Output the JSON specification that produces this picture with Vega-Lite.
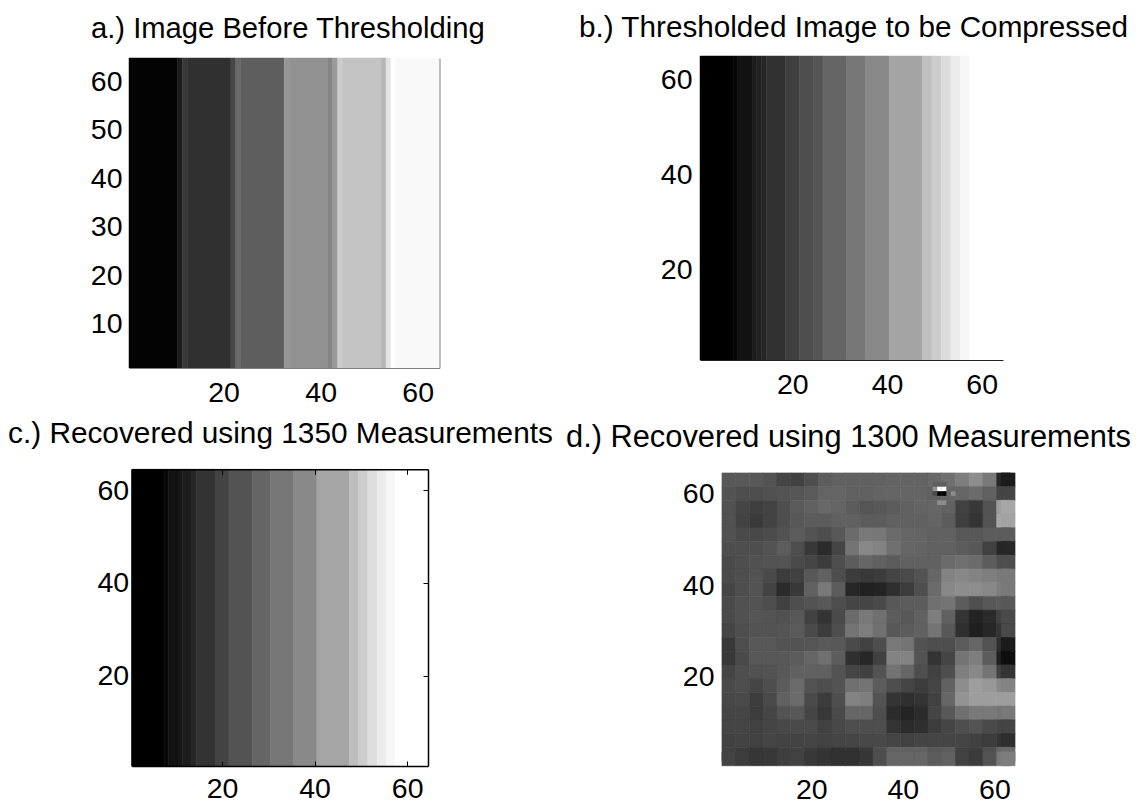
{"$schema":"https://vega.github.io/schema/vega-lite/v6.json","padding":0,"background":"white","columns":2,"spacing":0,"bounds":"flush",
"config":{"view":{"stroke":null},"font":"Liberation Sans","axis":{"grid":false,"title":null,"labelFont":"Liberation Sans","labelFontSize":28.5,"labelColor":"#000","labelFlush":false,"labelOverlap":false},"title":{"font":"Liberation Sans","fontWeight":"normal","color":"#000","anchor":"start","frame":"group","offset":0,"baseline":"alphabetic"}},
"datasets":{
"a":[{"x0":0.5,"x1":10.5,"y0":0.5,"y1":64.5,"v":2},{"x0":10.5,"x1":11.5,"y0":0.5,"y1":64.5,"v":26},{"x0":11.5,"x1":12.5,"y0":0.5,"y1":64.5,"v":61},{"x0":12.5,"x1":21.5,"y0":0.5,"y1":64.5,"v":51},{"x0":21.5,"x1":22.5,"y0":0.5,"y1":64.5,"v":77},{"x0":22.5,"x1":23.5,"y0":0.5,"y1":64.5,"v":112},{"x0":23.5,"x1":32.5,"y0":0.5,"y1":64.5,"v":102},{"x0":32.5,"x1":33.5,"y0":0.5,"y1":64.5,"v":158},{"x0":33.5,"x1":41.5,"y0":0.5,"y1":64.5,"v":153},{"x0":41.5,"x1":42.5,"y0":0.5,"y1":64.5,"v":143},{"x0":42.5,"x1":43.5,"y0":0.5,"y1":64.5,"v":163},{"x0":43.5,"x1":44.5,"y0":0.5,"y1":64.5,"v":209},{"x0":44.5,"x1":52.5,"y0":0.5,"y1":64.5,"v":201},{"x0":52.5,"x1":53.5,"y0":0.5,"y1":64.5,"v":189},{"x0":53.5,"x1":54.5,"y0":0.5,"y1":64.5,"v":230},{"x0":54.5,"x1":55.5,"y0":0.5,"y1":64.5,"v":255},{"x0":55.5,"x1":64.5,"y0":0.5,"y1":64.5,"v":250}],
"b":[{"x0":0.5,"x1":7.5,"y0":0.5,"y1":64.5,"v":0},{"x0":7.5,"x1":8.5,"y0":0.5,"y1":64.5,"v":4},{"x0":8.5,"x1":11.5,"y0":0.5,"y1":64.5,"v":14},{"x0":11.5,"x1":12.5,"y0":0.5,"y1":64.5,"v":26},{"x0":12.5,"x1":13.5,"y0":0.5,"y1":64.5,"v":34},{"x0":13.5,"x1":14.5,"y0":0.5,"y1":64.5,"v":40},{"x0":14.5,"x1":18.5,"y0":0.5,"y1":64.5,"v":52},{"x0":18.5,"x1":21.5,"y0":0.5,"y1":64.5,"v":68},{"x0":21.5,"x1":24.5,"y0":0.5,"y1":64.5,"v":85},{"x0":24.5,"x1":26.5,"y0":0.5,"y1":64.5,"v":92},{"x0":26.5,"x1":31.5,"y0":0.5,"y1":64.5,"v":109},{"x0":31.5,"x1":35.5,"y0":0.5,"y1":64.5,"v":128},{"x0":35.5,"x1":40.5,"y0":0.5,"y1":64.5,"v":146},{"x0":40.5,"x1":47.5,"y0":0.5,"y1":64.5,"v":172},{"x0":47.5,"x1":49.5,"y0":0.5,"y1":64.5,"v":198},{"x0":49.5,"x1":51.5,"y0":0.5,"y1":64.5,"v":210},{"x0":51.5,"x1":53.5,"y0":0.5,"y1":64.5,"v":224},{"x0":53.5,"x1":55.5,"y0":0.5,"y1":64.5,"v":238},{"x0":55.5,"x1":57.5,"y0":0.5,"y1":64.5,"v":248},{"x0":57.5,"x1":64.5,"y0":0.5,"y1":64.5,"v":255}],
"c":[{"x0":0.5,"x1":7.5,"y0":0.5,"y1":64.5,"v":0},{"x0":7.5,"x1":8.5,"y0":0.5,"y1":64.5,"v":5},{"x0":8.5,"x1":10.5,"y0":0.5,"y1":64.5,"v":14},{"x0":10.5,"x1":11.5,"y0":0.5,"y1":64.5,"v":20},{"x0":11.5,"x1":13.5,"y0":0.5,"y1":64.5,"v":28},{"x0":13.5,"x1":14.5,"y0":0.5,"y1":64.5,"v":39},{"x0":14.5,"x1":18.5,"y0":0.5,"y1":64.5,"v":54},{"x0":18.5,"x1":21.5,"y0":0.5,"y1":64.5,"v":72},{"x0":21.5,"x1":26.5,"y0":0.5,"y1":64.5,"v":90},{"x0":26.5,"x1":30.5,"y0":0.5,"y1":64.5,"v":109},{"x0":30.5,"x1":35.5,"y0":0.5,"y1":64.5,"v":128},{"x0":35.5,"x1":40.5,"y0":0.5,"y1":64.5,"v":146},{"x0":40.5,"x1":47.5,"y0":0.5,"y1":64.5,"v":173},{"x0":47.5,"x1":49.5,"y0":0.5,"y1":64.5,"v":196},{"x0":49.5,"x1":51.5,"y0":0.5,"y1":64.5,"v":210},{"x0":51.5,"x1":53.5,"y0":0.5,"y1":64.5,"v":226},{"x0":53.5,"x1":55.5,"y0":0.5,"y1":64.5,"v":238},{"x0":55.5,"x1":57.5,"y0":0.5,"y1":64.5,"v":248},{"x0":57.5,"x1":64.5,"y0":0.5,"y1":64.5,"v":255}],
"fine":[{"x":47,"y":62,"v":102},{"x":48,"y":62,"v":102},{"x":49,"y":62,"v":102},{"x":47,"y":61,"v":153},{"x":48,"y":61,"v":255},{"x":49,"y":61,"v":255},{"x":47,"y":60,"v":80},{"x":48,"y":60,"v":0},{"x":49,"y":60,"v":0},{"x":51,"y":61,"v":110},{"x":51,"y":60,"v":150},{"x":48,"y":58,"v":150},{"x":49,"y":58,"v":150}],
"d":[
{"x":2,"y":63,"v":95},{"x":5,"y":63,"v":96},{"x":8,"y":63,"v":95},{"x":11,"y":63,"v":90},{"x":14,"y":63,"v":75},{"x":17,"y":63,"v":70},{"x":20,"y":63,"v":85},{"x":23,"y":63,"v":100},{"x":26,"y":63,"v":105},{"x":29,"y":63,"v":105},{"x":32,"y":63,"v":105},{"x":35,"y":63,"v":105},{"x":38,"y":63,"v":108},{"x":41,"y":63,"v":108},{"x":44,"y":63,"v":108},{"x":47,"y":63,"v":112},{"x":50,"y":63,"v":120},{"x":53,"y":63,"v":135},{"x":56,"y":63,"v":150},{"x":59,"y":63,"v":130},{"x":62,"y":63,"v":40},{"x":63,"y":63,"v":25},
{"x":2,"y":60,"v":90},{"x":5,"y":60,"v":85},{"x":8,"y":60,"v":85},{"x":11,"y":60,"v":88},{"x":14,"y":60,"v":90},{"x":17,"y":60,"v":92},{"x":20,"y":60,"v":98},{"x":23,"y":60,"v":108},{"x":26,"y":60,"v":108},{"x":29,"y":60,"v":105},{"x":32,"y":60,"v":105},{"x":35,"y":60,"v":108},{"x":38,"y":60,"v":108},{"x":41,"y":60,"v":108},{"x":44,"y":60,"v":108},{"x":47,"y":60,"v":105},{"x":50,"y":60,"v":110},{"x":53,"y":60,"v":110},{"x":56,"y":60,"v":115},{"x":59,"y":60,"v":105},{"x":62,"y":60,"v":75},{"x":63,"y":60,"v":75},
{"x":2,"y":57,"v":88},{"x":5,"y":57,"v":75},{"x":8,"y":57,"v":68},{"x":11,"y":57,"v":72},{"x":14,"y":57,"v":85},{"x":17,"y":57,"v":98},{"x":20,"y":57,"v":105},{"x":23,"y":57,"v":112},{"x":26,"y":57,"v":108},{"x":29,"y":57,"v":100},{"x":32,"y":57,"v":92},{"x":35,"y":57,"v":95},{"x":38,"y":57,"v":100},{"x":41,"y":57,"v":105},{"x":44,"y":57,"v":108},{"x":47,"y":57,"v":110},{"x":50,"y":57,"v":105},{"x":53,"y":57,"v":70},{"x":56,"y":57,"v":60},{"x":59,"y":57,"v":90},{"x":62,"y":57,"v":165},{"x":63,"y":57,"v":175},
{"x":2,"y":54,"v":88},{"x":5,"y":54,"v":72},{"x":8,"y":54,"v":62},{"x":11,"y":54,"v":72},{"x":14,"y":54,"v":85},{"x":17,"y":54,"v":95},{"x":20,"y":54,"v":100},{"x":23,"y":54,"v":100},{"x":26,"y":54,"v":105},{"x":29,"y":54,"v":105},{"x":32,"y":54,"v":100},{"x":35,"y":54,"v":100},{"x":38,"y":54,"v":105},{"x":41,"y":54,"v":105},{"x":44,"y":54,"v":105},{"x":47,"y":54,"v":108},{"x":50,"y":54,"v":100},{"x":53,"y":54,"v":68},{"x":56,"y":54,"v":55},{"x":59,"y":54,"v":90},{"x":62,"y":54,"v":175},{"x":63,"y":54,"v":170},
{"x":2,"y":51,"v":88},{"x":5,"y":51,"v":80},{"x":8,"y":51,"v":78},{"x":11,"y":51,"v":82},{"x":14,"y":51,"v":90},{"x":17,"y":51,"v":100},{"x":20,"y":51,"v":90},{"x":23,"y":51,"v":85},{"x":26,"y":51,"v":95},{"x":29,"y":51,"v":115},{"x":32,"y":51,"v":130},{"x":35,"y":51,"v":128},{"x":38,"y":51,"v":115},{"x":41,"y":51,"v":110},{"x":44,"y":51,"v":108},{"x":47,"y":51,"v":105},{"x":50,"y":51,"v":105},{"x":53,"y":51,"v":95},{"x":56,"y":51,"v":95},{"x":59,"y":51,"v":100},{"x":62,"y":51,"v":100},{"x":63,"y":51,"v":100},
{"x":2,"y":48,"v":85},{"x":5,"y":48,"v":85},{"x":8,"y":48,"v":85},{"x":11,"y":48,"v":90},{"x":14,"y":48,"v":100},{"x":17,"y":48,"v":85},{"x":20,"y":48,"v":60},{"x":23,"y":48,"v":45},{"x":26,"y":48,"v":75},{"x":29,"y":48,"v":125},{"x":32,"y":48,"v":145},{"x":35,"y":48,"v":140},{"x":38,"y":48,"v":120},{"x":41,"y":48,"v":110},{"x":44,"y":48,"v":108},{"x":47,"y":48,"v":105},{"x":50,"y":48,"v":105},{"x":53,"y":48,"v":100},{"x":56,"y":48,"v":95},{"x":59,"y":48,"v":70},{"x":62,"y":48,"v":40},{"x":63,"y":48,"v":40},
{"x":2,"y":45,"v":80},{"x":5,"y":45,"v":85},{"x":8,"y":45,"v":88},{"x":11,"y":45,"v":90},{"x":14,"y":45,"v":90},{"x":17,"y":45,"v":80},{"x":20,"y":45,"v":75},{"x":23,"y":45,"v":65},{"x":26,"y":45,"v":85},{"x":29,"y":45,"v":100},{"x":32,"y":45,"v":110},{"x":35,"y":45,"v":105},{"x":38,"y":45,"v":100},{"x":41,"y":45,"v":105},{"x":44,"y":45,"v":105},{"x":47,"y":45,"v":105},{"x":50,"y":45,"v":115},{"x":53,"y":45,"v":120},{"x":56,"y":45,"v":115},{"x":59,"y":45,"v":100},{"x":62,"y":45,"v":85},{"x":63,"y":45,"v":85},
{"x":2,"y":42,"v":80},{"x":5,"y":42,"v":85},{"x":8,"y":42,"v":90},{"x":11,"y":42,"v":80},{"x":14,"y":42,"v":65},{"x":17,"y":42,"v":70},{"x":20,"y":42,"v":95},{"x":23,"y":42,"v":105},{"x":26,"y":42,"v":85},{"x":29,"y":42,"v":65},{"x":32,"y":42,"v":60},{"x":35,"y":42,"v":65},{"x":38,"y":42,"v":75},{"x":41,"y":42,"v":80},{"x":44,"y":42,"v":90},{"x":47,"y":42,"v":110},{"x":50,"y":42,"v":140},{"x":53,"y":42,"v":145},{"x":56,"y":42,"v":140},{"x":59,"y":42,"v":135},{"x":62,"y":42,"v":130},{"x":63,"y":42,"v":130},
{"x":2,"y":39,"v":75},{"x":5,"y":39,"v":85},{"x":8,"y":39,"v":90},{"x":11,"y":39,"v":72},{"x":14,"y":39,"v":45},{"x":17,"y":39,"v":60},{"x":20,"y":39,"v":105},{"x":23,"y":39,"v":130},{"x":26,"y":39,"v":100},{"x":29,"y":39,"v":40},{"x":32,"y":39,"v":32},{"x":35,"y":39,"v":35},{"x":38,"y":39,"v":50},{"x":41,"y":39,"v":65},{"x":44,"y":39,"v":85},{"x":47,"y":39,"v":115},{"x":50,"y":39,"v":145},{"x":53,"y":39,"v":150},{"x":56,"y":39,"v":150},{"x":59,"y":39,"v":145},{"x":62,"y":39,"v":135},{"x":63,"y":39,"v":130},
{"x":2,"y":36,"v":80},{"x":5,"y":36,"v":88},{"x":8,"y":36,"v":90},{"x":11,"y":36,"v":85},{"x":14,"y":36,"v":70},{"x":17,"y":36,"v":85},{"x":20,"y":36,"v":90},{"x":23,"y":36,"v":95},{"x":26,"y":36,"v":85},{"x":29,"y":36,"v":75},{"x":32,"y":36,"v":75},{"x":35,"y":36,"v":80},{"x":38,"y":36,"v":95},{"x":41,"y":36,"v":100},{"x":44,"y":36,"v":100},{"x":47,"y":36,"v":120},{"x":50,"y":36,"v":125},{"x":53,"y":36,"v":100},{"x":56,"y":36,"v":85},{"x":59,"y":36,"v":95},{"x":62,"y":36,"v":100},{"x":63,"y":36,"v":95},
{"x":2,"y":33,"v":80},{"x":5,"y":33,"v":88},{"x":8,"y":33,"v":92},{"x":11,"y":33,"v":90},{"x":14,"y":33,"v":88},{"x":17,"y":33,"v":95},{"x":20,"y":33,"v":70},{"x":23,"y":33,"v":55},{"x":26,"y":33,"v":80},{"x":29,"y":33,"v":115},{"x":32,"y":33,"v":130},{"x":35,"y":33,"v":120},{"x":38,"y":33,"v":100},{"x":41,"y":33,"v":95},{"x":44,"y":33,"v":105},{"x":47,"y":33,"v":135},{"x":50,"y":33,"v":105},{"x":53,"y":33,"v":55},{"x":56,"y":33,"v":35},{"x":59,"y":33,"v":45},{"x":62,"y":33,"v":70},{"x":63,"y":33,"v":80},
{"x":2,"y":30,"v":75},{"x":5,"y":30,"v":85},{"x":8,"y":30,"v":90},{"x":11,"y":30,"v":90},{"x":14,"y":30,"v":92},{"x":17,"y":30,"v":98},{"x":20,"y":30,"v":80},{"x":23,"y":30,"v":65},{"x":26,"y":30,"v":85},{"x":29,"y":30,"v":125},{"x":32,"y":30,"v":135},{"x":35,"y":30,"v":120},{"x":38,"y":30,"v":95},{"x":41,"y":30,"v":100},{"x":44,"y":30,"v":105},{"x":47,"y":30,"v":125},{"x":50,"y":30,"v":95},{"x":53,"y":30,"v":50},{"x":56,"y":30,"v":30},{"x":59,"y":30,"v":40},{"x":62,"y":30,"v":55},{"x":63,"y":30,"v":80},
{"x":2,"y":27,"v":60},{"x":5,"y":27,"v":85},{"x":8,"y":27,"v":95},{"x":11,"y":27,"v":95},{"x":14,"y":27,"v":90},{"x":17,"y":27,"v":90},{"x":20,"y":27,"v":92},{"x":23,"y":27,"v":98},{"x":26,"y":27,"v":95},{"x":29,"y":27,"v":80},{"x":32,"y":27,"v":70},{"x":35,"y":27,"v":85},{"x":38,"y":27,"v":130},{"x":41,"y":27,"v":125},{"x":44,"y":27,"v":90},{"x":47,"y":27,"v":85},{"x":50,"y":27,"v":85},{"x":53,"y":27,"v":100},{"x":56,"y":27,"v":110},{"x":59,"y":27,"v":90},{"x":62,"y":27,"v":50},{"x":63,"y":27,"v":25},
{"x":2,"y":24,"v":60},{"x":5,"y":24,"v":80},{"x":8,"y":24,"v":95},{"x":11,"y":24,"v":95},{"x":14,"y":24,"v":95},{"x":17,"y":24,"v":100},{"x":20,"y":24,"v":110},{"x":23,"y":24,"v":120},{"x":26,"y":24,"v":100},{"x":29,"y":24,"v":50},{"x":32,"y":24,"v":40},{"x":35,"y":24,"v":70},{"x":38,"y":24,"v":140},{"x":41,"y":24,"v":140},{"x":44,"y":24,"v":90},{"x":47,"y":24,"v":55},{"x":50,"y":24,"v":75},{"x":53,"y":24,"v":125},{"x":56,"y":24,"v":135},{"x":59,"y":24,"v":100},{"x":62,"y":24,"v":30},{"x":63,"y":24,"v":10},
{"x":2,"y":21,"v":75},{"x":5,"y":21,"v":85},{"x":8,"y":21,"v":88},{"x":11,"y":21,"v":90},{"x":14,"y":21,"v":95},{"x":17,"y":21,"v":105},{"x":20,"y":21,"v":105},{"x":23,"y":21,"v":105},{"x":26,"y":21,"v":90},{"x":29,"y":21,"v":75},{"x":32,"y":21,"v":70},{"x":35,"y":21,"v":90},{"x":38,"y":21,"v":125},{"x":41,"y":21,"v":110},{"x":44,"y":21,"v":85},{"x":47,"y":21,"v":70},{"x":50,"y":21,"v":85},{"x":53,"y":21,"v":135},{"x":56,"y":21,"v":145},{"x":59,"y":21,"v":125},{"x":62,"y":21,"v":70},{"x":63,"y":21,"v":55},
{"x":2,"y":18,"v":80},{"x":5,"y":18,"v":85},{"x":8,"y":18,"v":75},{"x":11,"y":18,"v":85},{"x":14,"y":18,"v":100},{"x":17,"y":18,"v":115},{"x":20,"y":18,"v":90},{"x":23,"y":18,"v":85},{"x":26,"y":18,"v":90},{"x":29,"y":18,"v":120},{"x":32,"y":18,"v":125},{"x":35,"y":18,"v":100},{"x":38,"y":18,"v":85},{"x":41,"y":18,"v":75},{"x":44,"y":18,"v":65},{"x":47,"y":18,"v":75},{"x":50,"y":18,"v":105},{"x":53,"y":18,"v":150},{"x":56,"y":18,"v":165},{"x":59,"y":18,"v":160},{"x":62,"y":18,"v":145},{"x":63,"y":18,"v":140},
{"x":2,"y":15,"v":78},{"x":5,"y":15,"v":80},{"x":8,"y":15,"v":65},{"x":11,"y":15,"v":80},{"x":14,"y":15,"v":105},{"x":17,"y":15,"v":115},{"x":20,"y":15,"v":80},{"x":23,"y":15,"v":65},{"x":26,"y":15,"v":85},{"x":29,"y":15,"v":140},{"x":32,"y":15,"v":135},{"x":35,"y":15,"v":90},{"x":38,"y":15,"v":55},{"x":41,"y":15,"v":50},{"x":44,"y":15,"v":55},{"x":47,"y":15,"v":70},{"x":50,"y":15,"v":110},{"x":53,"y":15,"v":155},{"x":56,"y":15,"v":165},{"x":59,"y":15,"v":165},{"x":62,"y":15,"v":165},{"x":63,"y":15,"v":165},
{"x":2,"y":12,"v":75},{"x":5,"y":12,"v":75},{"x":8,"y":12,"v":65},{"x":11,"y":12,"v":75},{"x":14,"y":12,"v":90},{"x":17,"y":12,"v":95},{"x":20,"y":12,"v":75},{"x":23,"y":12,"v":60},{"x":26,"y":12,"v":80},{"x":29,"y":12,"v":110},{"x":32,"y":12,"v":110},{"x":35,"y":12,"v":85},{"x":38,"y":12,"v":45},{"x":41,"y":12,"v":35},{"x":44,"y":12,"v":45},{"x":47,"y":12,"v":75},{"x":50,"y":12,"v":95},{"x":53,"y":12,"v":120},{"x":56,"y":12,"v":130},{"x":59,"y":12,"v":130},{"x":62,"y":12,"v":125},{"x":63,"y":12,"v":130},
{"x":2,"y":9,"v":75},{"x":5,"y":9,"v":75},{"x":8,"y":9,"v":70},{"x":11,"y":9,"v":75},{"x":14,"y":9,"v":78},{"x":17,"y":9,"v":80},{"x":20,"y":9,"v":80},{"x":23,"y":9,"v":70},{"x":26,"y":9,"v":78},{"x":29,"y":9,"v":85},{"x":32,"y":9,"v":85},{"x":35,"y":9,"v":85},{"x":38,"y":9,"v":55},{"x":41,"y":9,"v":45},{"x":44,"y":9,"v":50},{"x":47,"y":9,"v":65},{"x":50,"y":9,"v":75},{"x":53,"y":9,"v":85},{"x":56,"y":9,"v":90},{"x":59,"y":9,"v":80},{"x":62,"y":9,"v":75},{"x":63,"y":9,"v":75},
{"x":2,"y":6,"v":70},{"x":5,"y":6,"v":72},{"x":8,"y":6,"v":70},{"x":11,"y":6,"v":75},{"x":14,"y":6,"v":72},{"x":17,"y":6,"v":72},{"x":20,"y":6,"v":75},{"x":23,"y":6,"v":72},{"x":26,"y":6,"v":75},{"x":29,"y":6,"v":75},{"x":32,"y":6,"v":78},{"x":35,"y":6,"v":78},{"x":38,"y":6,"v":75},{"x":41,"y":6,"v":70},{"x":44,"y":6,"v":75},{"x":47,"y":6,"v":75},{"x":50,"y":6,"v":75},{"x":53,"y":6,"v":75},{"x":56,"y":6,"v":70},{"x":59,"y":6,"v":65},{"x":62,"y":6,"v":55},{"x":63,"y":6,"v":50},
{"x":2,"y":3,"v":70},{"x":5,"y":3,"v":65},{"x":8,"y":3,"v":58},{"x":11,"y":3,"v":60},{"x":14,"y":3,"v":68},{"x":17,"y":3,"v":70},{"x":20,"y":3,"v":62},{"x":23,"y":3,"v":58},{"x":26,"y":3,"v":52},{"x":29,"y":3,"v":52},{"x":32,"y":3,"v":60},{"x":35,"y":3,"v":85},{"x":38,"y":3,"v":105},{"x":41,"y":3,"v":105},{"x":44,"y":3,"v":105},{"x":47,"y":3,"v":95},{"x":50,"y":3,"v":100},{"x":53,"y":3,"v":70},{"x":56,"y":3,"v":65},{"x":59,"y":3,"v":85},{"x":62,"y":3,"v":110},{"x":63,"y":3,"v":115},
{"x":2,"y":2,"v":72},{"x":5,"y":2,"v":65},{"x":8,"y":2,"v":58},{"x":11,"y":2,"v":60},{"x":14,"y":2,"v":68},{"x":17,"y":2,"v":70},{"x":20,"y":2,"v":60},{"x":23,"y":2,"v":55},{"x":26,"y":2,"v":52},{"x":29,"y":2,"v":52},{"x":32,"y":2,"v":58},{"x":35,"y":2,"v":85},{"x":38,"y":2,"v":110},{"x":41,"y":2,"v":110},{"x":44,"y":2,"v":110},{"x":47,"y":2,"v":100},{"x":50,"y":2,"v":105},{"x":53,"y":2,"v":70},{"x":56,"y":2,"v":65},{"x":59,"y":2,"v":90},{"x":62,"y":2,"v":130},{"x":63,"y":2,"v":135}
]},
"concat":[
{"width":570,"height":402,"title":{"text":"a.) Image Before Thresholding","dx":91,"dy":48.5,"fontSize":29.2},
"resolve":{"axis":{"x":"independent","y":"independent"}},
"layer":[
{"data":{"name":"a"},"mark":{"type":"rect","strokeWidth":0.5},"encoding":{
"x":{"field":"x0","type":"quantitative","scale":{"domain":[0.5,64.5],"range":[129,439.5],"nice":false,"zero":false},"axis":{"orient":"bottom","zindex":1,"offset":-34,"values":[20,40,60],"tickSize":0,"domainColor":"#808080","labelPadding":10}},
"x2":{"field":"x1"},
"y":{"field":"y0","type":"quantitative","scale":{"domain":[0.5,64.5],"range":[368,58],"nice":false,"zero":false},"axis":{"orient":"left","offset":-129,"tickSize":0,"domain":false,"labelPadding":7,"labelOffset":1.5,"values":[10,20,30,40,50,60]}},
"y2":{"field":"y1"},
"color":{"field":"v","type":"quantitative","scale":{"domain":[0,255],"range":["#000000","#ffffff"]},"legend":null},
"stroke":{"field":"v","type":"quantitative","scale":{"domain":[0,255],"range":["#000000","#ffffff"]},"legend":null}}},
{"data":{"name":"a"},"mark":{"type":"rect","opacity":0},"encoding":{
"x":{"field":"x0","type":"quantitative","scale":{"domain":[0.5,64.5],"range":[129,439.5],"nice":false,"zero":false},"axis":null},
"x2":{"field":"x1"},
"y":{"field":"y0","type":"quantitative","scale":{"domain":[0.5,64.5],"range":[368,58],"nice":false,"zero":false},"axis":{"orient":"right","zindex":1,"offset":-130.5,"values":[20,40,60],"tickSize":0,"domainColor":"#808080","labels":false}},
"y2":{"field":"y1"}}}
]},
{"width":570,"height":402,"title":{"text":"b.) Thresholded Image to be Compressed","dx":9,"dy":48,"fontSize":29.7},
"data":{"name":"b"},"mark":{"type":"rect","strokeWidth":0.5},"encoding":{
"x":{"field":"x0","type":"quantitative","scale":{"domain":[0.5,64.5],"range":[130,433],"nice":false,"zero":false},"axis":{"orient":"bottom","zindex":1,"offset":-42,"values":[20,40,60],"tickSize":0,"domainColor":"#222222","labelPadding":10}},
"x2":{"field":"x1"},
"y":{"field":"y0","type":"quantitative","scale":{"domain":[0.5,64.5],"range":[360,56],"nice":false,"zero":false},"axis":{"orient":"left","offset":-130,"values":[20,40,60],"tickSize":0,"domain":false,"labelPadding":8,"labelOffset":2}},
"y2":{"field":"y1"},
"color":{"field":"v","type":"quantitative","scale":{"domain":[0,255],"range":["#000000","#ffffff"]},"legend":null},
"stroke":{"field":"v","type":"quantitative","scale":{"domain":[0,255],"range":["#000000","#ffffff"]},"legend":null}}},
{"width":570,"height":402,"title":{"text":"c.) Recovered using 1350 Measurements","dx":8,"dy":51,"fontSize":29.8},
"resolve":{"axis":{"x":"independent","y":"independent"}},
"layer":[
{"data":{"name":"c"},"mark":{"type":"rect","strokeWidth":0.5},"encoding":{
"x":{"field":"x0","type":"quantitative","scale":{"domain":[0.5,64.5],"range":[131.7,428],"nice":false,"zero":false},"axis":{"orient":"bottom","zindex":2,"ticks":true,"offset":-38,"values":[20,40,60],"tickSize":-5,"tickWidth":1,"tickColor":"#000000","domainColor":"#000","domainWidth":1.5,"labelPadding":13}},
"x2":{"field":"x1"},
"y":{"field":"y0","type":"quantitative","scale":{"domain":[0.5,64.5],"range":[364,67.3],"nice":false,"zero":false},"axis":{"orient":"left","zindex":2,"ticks":true,"offset":-131.7,"values":[20,40,60],"tickSize":-5,"tickWidth":1,"tickColor":"#000000","domainColor":"#000","domainWidth":1.5,"labelPadding":8}},
"y2":{"field":"y1"},
"color":{"field":"v","type":"quantitative","scale":{"domain":[0,255],"range":["#000000","#ffffff"]},"legend":null},
"stroke":{"field":"v","type":"quantitative","scale":{"domain":[0,255],"range":["#000000","#ffffff"]},"legend":null}}},
{"data":{"name":"c"},"mark":{"type":"rect","opacity":0},"encoding":{
"x":{"field":"x0","type":"quantitative","scale":{"domain":[0.5,64.5],"range":[131.7,428],"nice":false,"zero":false},"axis":{"orient":"top","zindex":2,"ticks":true,"offset":-67.3,"values":[20,40,60],"tickSize":-5,"tickWidth":1,"tickColor":"#000000","domainColor":"#000","domainWidth":1.5,"labels":false}},
"x2":{"field":"x1"},
"y":{"field":"y0","type":"quantitative","scale":{"domain":[0.5,64.5],"range":[364,67.3],"nice":false,"zero":false},"axis":{"orient":"right","zindex":2,"ticks":true,"offset":-142,"values":[20,40,60],"tickSize":-5,"tickWidth":1,"tickColor":"#000000","domainColor":"#000","domainWidth":1.5,"labels":false}},
"y2":{"field":"y1"}}}
]},
{"width":570,"height":402,"title":{"text":"d.) Recovered using 1300 Measurements","dx":-4,"dy":56,"fontSize":30.8},
"layer":[
{"data":{"name":"d"},"mark":{"type":"rect","width":14,"height":14,"strokeWidth":0.4},"encoding":{
"x":{"field":"x","type":"quantitative","scale":{"domain":[0.5,64.5],"range":[152,445],"nice":false,"zero":false},"axis":{"orient":"bottom","offset":-38.3,"values":[20,40,60],"tickSize":0,"domain":false,"labelPadding":10}},
"y":{"field":"y","type":"quantitative","scale":{"domain":[0.5,64.5],"range":[363.7,71],"nice":false,"zero":false},"axis":{"orient":"left","offset":-152,"values":[20,40,60],"tickSize":0,"domain":false,"labelPadding":8}},
"color":{"field":"v","type":"quantitative","scale":{"domain":[0,255],"range":["#000000","#ffffff"]},"legend":null},
"stroke":{"field":"v","type":"quantitative","scale":{"domain":[0,255],"range":["#000000","#ffffff"]},"legend":null}}},
{"data":{"name":"fine"},"mark":{"type":"rect","width":4.6,"height":4.6},"encoding":{
"x":{"field":"x","type":"quantitative"},
"y":{"field":"y","type":"quantitative"},
"color":{"field":"v","type":"quantitative","scale":{"domain":[0,255],"range":["#000000","#ffffff"]},"legend":null}}}
]}
]}
